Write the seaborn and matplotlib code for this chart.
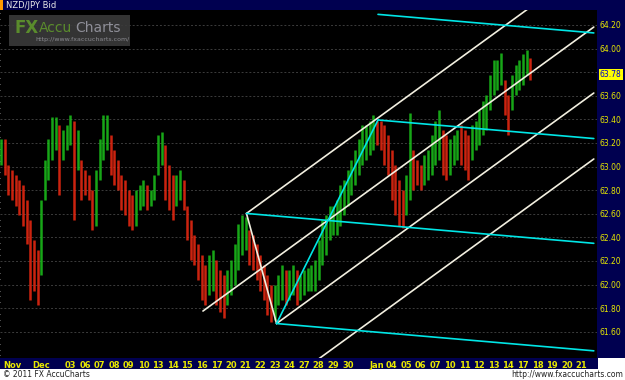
import numpy as np
import pandas as pd
import matplotlib
matplotlib.use("Agg")
import matplotlib.pyplot as plt
import matplotlib.transforms as mtransforms
from matplotlib.patches import Rectangle
from matplotlib.ticker import MultipleLocator
import seaborn as sns

# ---------------- data ----------------
day_labels = ["Nov", "", "Dec", "", "03", "06", "07", "08", "09", "10",
              "13", "14", "15", "16", "17", "20", "21", "22", "23", "24",
              "27", "28", "29", "30", "", "Jan", "04", "05", "06", "07",
              "10", "11", "12", "13", "14", "17", "18", "19", "20", "21"]

bar_high = [63.23, 63.23, 63.01, 62.97, 62.93, 62.89, 62.84, 62.72, 62.55, 62.38,
            62.29, 62.72, 63.06, 63.23, 63.42, 63.42, 63.35, 63.31, 63.35, 63.44,
            63.39, 63.31, 63.06, 62.97, 62.93, 62.80, 62.97, 63.23, 63.44, 63.44,
            63.27, 63.14, 63.06, 62.93, 62.89, 62.80, 62.76, 62.80, 62.84, 62.89,
            62.84, 62.80, 62.93, 63.27, 63.29, 63.18, 63.01, 62.93, 62.93, 62.97,
            62.89, 62.67, 62.55, 62.42, 62.34, 62.25, 62.17, 62.25, 62.29, 62.21,
            62.12, 62.08, 62.12, 62.21, 62.34, 62.51, 62.59, 62.57, 62.46, 62.42,
            62.34, 62.25, 62.17, 62.08, 62.00, 62.00, 62.08, 62.17, 62.12, 62.12,
            62.17, 62.12, 62.08, 62.12, 62.14, 62.17, 62.21, 62.38, 62.55, 62.59,
            62.67, 62.67, 62.72, 62.84, 62.89, 62.97, 63.06, 63.14, 63.23, 63.35,
            63.35, 63.39, 63.44, 63.39, 63.39, 63.35, 63.27, 63.14, 63.01, 62.89,
            62.80, 62.93, 63.45, 63.14, 63.06, 63.01, 63.10, 63.14, 63.27, 63.39,
            63.48, 63.31, 63.27, 63.23, 63.27, 63.31, 63.35, 63.31, 63.27, 63.35,
            63.39, 63.48, 63.56, 63.61, 63.78, 63.90, 63.90, 63.96, 63.73, 63.61,
            63.78, 63.86, 63.90, 63.95, 63.99, 63.92]

bar_low = [63.01, 62.93, 62.76, 62.72, 62.67, 62.59, 62.50, 62.34, 61.87, 61.95,
           61.83, 62.08, 62.72, 62.89, 63.06, 63.14, 62.76, 63.06, 63.14, 63.18,
           62.55, 62.97, 62.72, 62.76, 62.72, 62.46, 62.50, 62.89, 63.06, 63.14,
           62.93, 62.84, 62.80, 62.63, 62.59, 62.50, 62.46, 62.50, 62.63, 62.67,
           62.63, 62.67, 62.72, 62.93, 63.01, 62.72, 62.63, 62.55, 62.67, 62.72,
           62.63, 62.38, 62.21, 62.17, 62.04, 61.87, 61.83, 61.91, 61.95, 61.83,
           61.77, 61.72, 61.83, 61.91, 62.00, 62.12, 62.25, 62.29, 62.17, 62.12,
           62.04, 61.95, 61.87, 61.74, 61.68, 61.70, 61.83, 61.87, 61.83, 61.87,
           61.91, 61.83, 61.87, 61.91, 61.95, 61.95, 61.95, 62.04, 62.17, 62.25,
           62.38, 62.42, 62.42, 62.50, 62.59, 62.67, 62.76, 62.84, 62.93, 63.01,
           63.06, 63.10, 63.14, 63.18, 63.14, 63.01, 62.93, 62.72, 62.59, 62.50,
           62.48, 62.59, 62.72, 62.80, 62.84, 62.80, 62.84, 62.89, 62.93, 63.01,
           63.06, 62.93, 62.89, 62.93, 63.01, 63.06, 63.01, 62.97, 62.89, 63.06,
           63.14, 63.18, 63.27, 63.31, 63.48, 63.61, 63.65, 63.69, 63.44, 63.27,
           63.48, 63.61, 63.65, 63.69, 63.78, 63.73]

bars_per_day = 4
first_bar_day = -0.75

# pitchfork pivots (trading-day index, price)
pivot_days = [13.08, 16.06, 18.12]
pivot_prices = [61.776, 62.603, 61.67]
reaction_day = 25.07
reaction_price = 63.395
upper_reaction_price = 64.29
cyan_slope = -0.01064          # price per trading day
line_end_day = 39.85

last_price = 63.78
price_ticks = [61.6, 61.8, 62.0, 62.2, 62.4, 62.6, 62.8, 63.0, 63.2, 63.4, 63.6, 63.8, 64.0, 64.2]
grid_days = [0, 3, 6, 9, 12, 15, 18, 21, 24, 27, 30, 33, 36, 39]

# ---------------- style ----------------
sns.set_theme(style="dark", rc={"axes.facecolor": "black"})
plt.rcParams["font.family"] = ["DejaVu Sans"]

W, H = 625, 380
NAVY = "#000050"
YELLOW = "#E8E800"


def fx(px):
    return px / W


def fy(py):
    return 1 - py / H


fig = plt.figure(figsize=(6.25, 3.8), dpi=100, facecolor="white")
ax = fig.add_axes([0, fy(358), fx(597), fy(10) - fy(358)])
ax.set_facecolor("black")

# panels
fig.add_artist(Rectangle((0, fy(10)), 1, 10 / H, transform=fig.transFigure,
                         facecolor=NAVY, edgecolor="none", zorder=-1))
fig.add_artist(Rectangle((0, fy(10)), 3 / W, 10 / H, transform=fig.transFigure,
                         facecolor="#FF9900", edgecolor="none", zorder=-1))
fig.add_artist(Rectangle((fx(597), fy(358)), 28 / W, 348 / H, transform=fig.transFigure,
                         facecolor=NAVY, edgecolor="none", zorder=-1))
fig.add_artist(Rectangle((0, fy(369)), fx(598), 11 / H, transform=fig.transFigure,
                         facecolor=NAVY, edgecolor="none", zorder=-1))

# ---------------- price bars ----------------
hi = np.array(bar_high)
lo = np.array(bar_low)
t = first_bar_day + np.arange(len(hi)) / bars_per_day
mid = (hi + lo) / 2
up = np.diff(mid, prepend=mid[0]) >= 0
colors = np.where(up, "#1cc41c", "#f02a12")
ax.vlines(t, lo, hi, colors=colors, linewidth=1.8, alpha=0.85, zorder=2)

# ---------------- pitchfork lines ----------------
d1, d2, d3 = pivot_days
p1, p2, p3 = pivot_prices
md, mp = (d2 + d3) / 2, (p2 + p3) / 2
m = (mp - p1) / (md - d1)
off3 = p3 - (p1 + m * (d3 - d1))
rows = []


def seg(name, color, x0, y0, x1, y1):
    rows.append((name, color, x0, y0))
    rows.append((name, color, x1, y1))


seg("median", "w", d1, p1, line_end_day, p1 + m * (line_end_day - d1))
seg("upper", "w", d2, p2, line_end_day, p2 + m * (line_end_day - d2))
seg("lower", "w", d3, p3, line_end_day, p3 + m * (line_end_day - d3))
w0 = p1 + m * (d3 - d1) + 2 * off3
seg("lower2", "w", d3, w0, line_end_day, w0 + m * (line_end_day - d3))
seg("p2p3", "w", d2, p2, d3, p3)
seg("p3q", "c", d3, p3, reaction_day, reaction_price)
for nm, (dd, pp) in {"cq": (reaction_day, reaction_price),
                     "ct": (reaction_day, upper_reaction_price),
                     "c2": (d2, p2), "c3": (d3, p3)}.items():
    seg(nm, "c", dd, pp, line_end_day, pp + cyan_slope * (line_end_day - dd))

lines = pd.DataFrame(rows, columns=["name", "color", "day", "price"])
sns.lineplot(data=lines, x="day", y="price", hue="color", units="name",
             estimator=None, sort=False, legend=False,
             palette={"w": "#F2EFE0", "c": "#00E6E6"}, linewidth=1.2,
             ax=ax, zorder=3)

# ---------------- axes ----------------
ax.set_xlim(-0.822, 40.07)
ax.set_ylim(61.378, 64.327)
ax.set_xlabel("")
ax.set_ylabel("")
for s in ax.spines.values():
    s.set_visible(False)

ax.set_xticks(range(len(day_labels)))
ax.set_xticklabels(day_labels)
ax.set_xticks(grid_days, minor=True)
ax.yaxis.tick_right()
ax.set_yticks(price_ticks)
ax.set_yticklabels(["" if abs(v - 63.8) < 1e-9 else f"{v:.2f}" for v in price_ticks])
ax.yaxis.set_minor_locator(MultipleLocator(0.05))

ax.tick_params(axis="x", which="major", length=0, colors=YELLOW, labelsize=6, pad=2)
ax.tick_params(axis="x", which="minor", length=0)
ax.tick_params(axis="y", which="major", length=0, colors=YELLOW, labelsize=5.5, pad=1.5)
ax.tick_params(axis="y", which="minor", left=True, right=False, length=2,
               width=0.6, color="#bbbbbb")
for lbl in ax.get_xticklabels():
    lbl.set_fontweight("bold")

ax.grid(False)
ax.grid(True, which="major", axis="y", color="#3c3c3c", linestyle=(0, (2, 2)), linewidth=0.7)
ax.grid(True, which="minor", axis="x", color="#3c3c3c", linestyle=(0, (2, 2)), linewidth=0.7)
ax.set_axisbelow(True)

# last price box
tr = mtransforms.blended_transform_factory(ax.transAxes, ax.transData)
ax.text(1.0 + 3 / 597, last_price, f"{last_price:.2f}", transform=tr, ha="left", va="center",
        fontsize=5.5, color="#0000CC", clip_on=False,
        bbox=dict(boxstyle="square,pad=0.15", facecolor="#FFFF00", edgecolor="none"))

# ---------------- texts ----------------
fig.text(fx(6), fy(5), "NZD/JPY Bid", color="#E8E8E8", fontsize=6, va="center")

fig.add_artist(Rectangle((fx(9), fy(46)), 121 / W, 31 / H, transform=fig.transFigure,
                         facecolor="#3a3a3a", edgecolor="none", alpha=0.9, zorder=1))
fig.text(fx(15), fy(28), "FX", color="#5a8c2c", fontsize=12, fontweight="bold",
         va="center", zorder=2)
fig.text(fx(39), fy(28), "Accu", color="#5a8c2c", fontsize=10, va="center", zorder=2)
fig.text(fx(75), fy(28), "Charts", color="#8f8f98", fontsize=10, va="center", zorder=2)
fig.text(fx(35), fy(40), "http://www.fxaccucharts.com/", color="#8a8a90", fontsize=4.5,
         va="center", zorder=2)

fig.text(fx(3), fy(374.5), "\u00a9 2011 FX AccuCharts", color="#202020", fontsize=5.5, va="center")
fig.text(fx(623), fy(374.5), "http://www.fxaccucharts.com", color="#202020", fontsize=5.5,
         va="center", ha="right")

fig.savefig("out.png", dpi=100, facecolor="white")
